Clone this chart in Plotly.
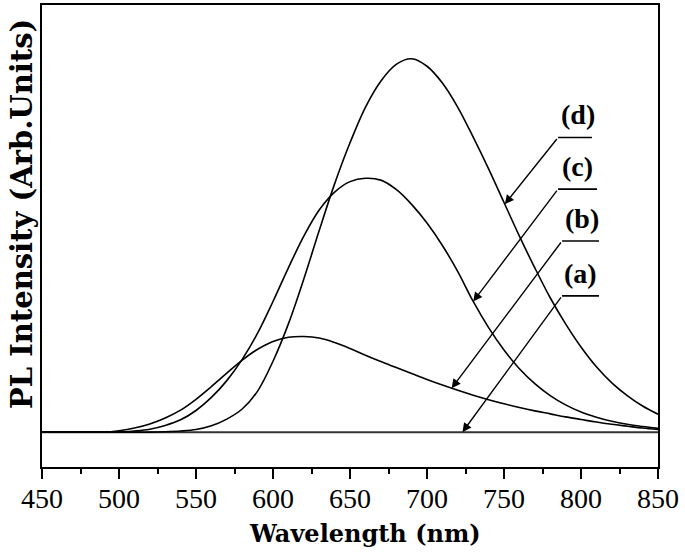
import plotly.graph_objects as go
import numpy as np

wavelength = list(range(450, 851, 10))

pl_a = [0.0] * 41

pl_b = [0, 0, 0, 0, 0, 0.004, 0.011, 0.022, 0.038, 0.059, 0.088, 0.122, 0.158, 0.193,
        0.222, 0.243, 0.254, 0.256, 0.252, 0.24, 0.224, 0.206, 0.189, 0.173, 0.157,
        0.141, 0.126, 0.112, 0.099, 0.087, 0.076, 0.066, 0.057, 0.049, 0.041, 0.034,
        0.027, 0.021, 0.016, 0.011, 0.007]

pl_c = [0, 0, 0, 0, 0, 0, 0.003, 0.008, 0.018, 0.033, 0.058, 0.093, 0.138, 0.195,
        0.265, 0.35, 0.44, 0.525, 0.595, 0.643, 0.671, 0.68, 0.675, 0.65, 0.61, 0.56,
        0.50, 0.43, 0.35, 0.28, 0.22, 0.17, 0.13, 0.098, 0.073, 0.054, 0.04, 0.029,
        0.021, 0.015, 0.01]

pl_d = [0, 0, 0, 0, 0, 0, 0, 0, 0.001, 0.003, 0.007, 0.017, 0.035, 0.062, 0.11,
        0.19, 0.29, 0.41, 0.54, 0.665, 0.775, 0.87, 0.94, 0.985, 1.0, 0.98, 0.935,
        0.87, 0.79, 0.705, 0.615, 0.525, 0.44, 0.36, 0.29, 0.228, 0.175, 0.132, 0.098,
        0.07, 0.048]

labels = ["(a)", "(b)", "(c)", "(d)"]
series = [pl_a, pl_b, pl_c, pl_d]
arrow_tip_x = [723, 716, 730, 750.5]
tail_x = [787.7, 787.7, 785.1, 785.1]
tail_y = [0.365, 0.512, 0.651, 0.789]
line_end_x = [811.7, 811.7, 810.4, 807.1]
label_x = [799.4, 800.6, 798, 798]
label_y = [0.424, 0.571, 0.712, 0.851]

FONT = "Liberation Serif"
TITLE_FONT = "DejaVu Serif"

fig = go.Figure()
for name, vals in zip(labels, series):
    fig.add_trace(go.Scatter(
        x=wavelength, y=vals, mode="lines", name=name,
        line=dict(color="#000000" if name != "(a)" else "#333333",
                  width=1.6 if name != "(a)" else 2.0, shape="spline", smoothing=1.0),
        showlegend=False,
    ))

annotations = []
shapes = []
for i, name in enumerate(labels):
    tip_y = float(np.interp(arrow_tip_x[i], wavelength, series[i]))
    annotations.append(dict(
        x=arrow_tip_x[i], y=tip_y, xref="x", yref="y",
        ax=tail_x[i], ay=tail_y[i], axref="x", ayref="y",
        showarrow=True, arrowhead=2, arrowsize=1.3, arrowwidth=1.4,
        arrowcolor="#000000", text="",
    ))
    shapes.append(dict(type="line", xref="x", yref="y",
                       x0=tail_x[i], y0=tail_y[i], x1=line_end_x[i], y1=tail_y[i],
                       line=dict(color="#000000", width=1.6)))
    annotations.append(dict(
        x=label_x[i], y=label_y[i], xref="x", yref="y", showarrow=False,
        text="<b>%s</b>" % name, font=dict(family=FONT, size=28, color="#000000"),
        xanchor="center", yanchor="middle",
    ))

# axis titles
annotations.append(dict(
    x=(365 - 42) / 616, y=(467 - 534) / 464, xref="paper", yref="paper",
    showarrow=False,
    text="<b>Wavelength (nm)</b>", font=dict(family=TITLE_FONT, size=24, color="#000000"),
    xanchor="center", yanchor="middle",
))
annotations.append(dict(
    x=(22 - 42) / 616, y=(467 - 213) / 464, xref="paper", yref="paper",
    showarrow=False, textangle=-90,
    text="<b>PL Intensity (Arb.Units)</b>",
    font=dict(family=TITLE_FONT, size=29, color="#000000"),
    xanchor="center", yanchor="middle",
))

fig.update_layout(
    width=685, height=554,
    margin=dict(l=42, r=27, t=3, b=87),
    paper_bgcolor="white", plot_bgcolor="white",
    annotations=annotations, shapes=shapes,
    xaxis=dict(
        range=[450, 850], tickvals=list(range(450, 851, 50)),
        ticks="outside", ticklen=10, tickwidth=2, tickcolor="#000000",
        ticklabelstandoff=-5,
        minor=dict(ticks="outside", ticklen=5, tickwidth=2, dtick=25, tick0=450,
                   tickcolor="#000000"),
        showline=True, linewidth=2, linecolor="#000000", mirror=True,
        showgrid=False, zeroline=False,
        tickfont=dict(family=FONT, size=28, color="#000000"),
    ),
    yaxis=dict(
        range=[-0.0933, 1.144], showticklabels=False, ticks="",
        showline=True, linewidth=2, linecolor="#000000", mirror=True,
        showgrid=False, zeroline=False,
    ),
)

fig.write_html("out.html", config={"displayModeBar": False},
               post_script="document.body.style.margin='0px';document.body.style.overflow='hidden';")
